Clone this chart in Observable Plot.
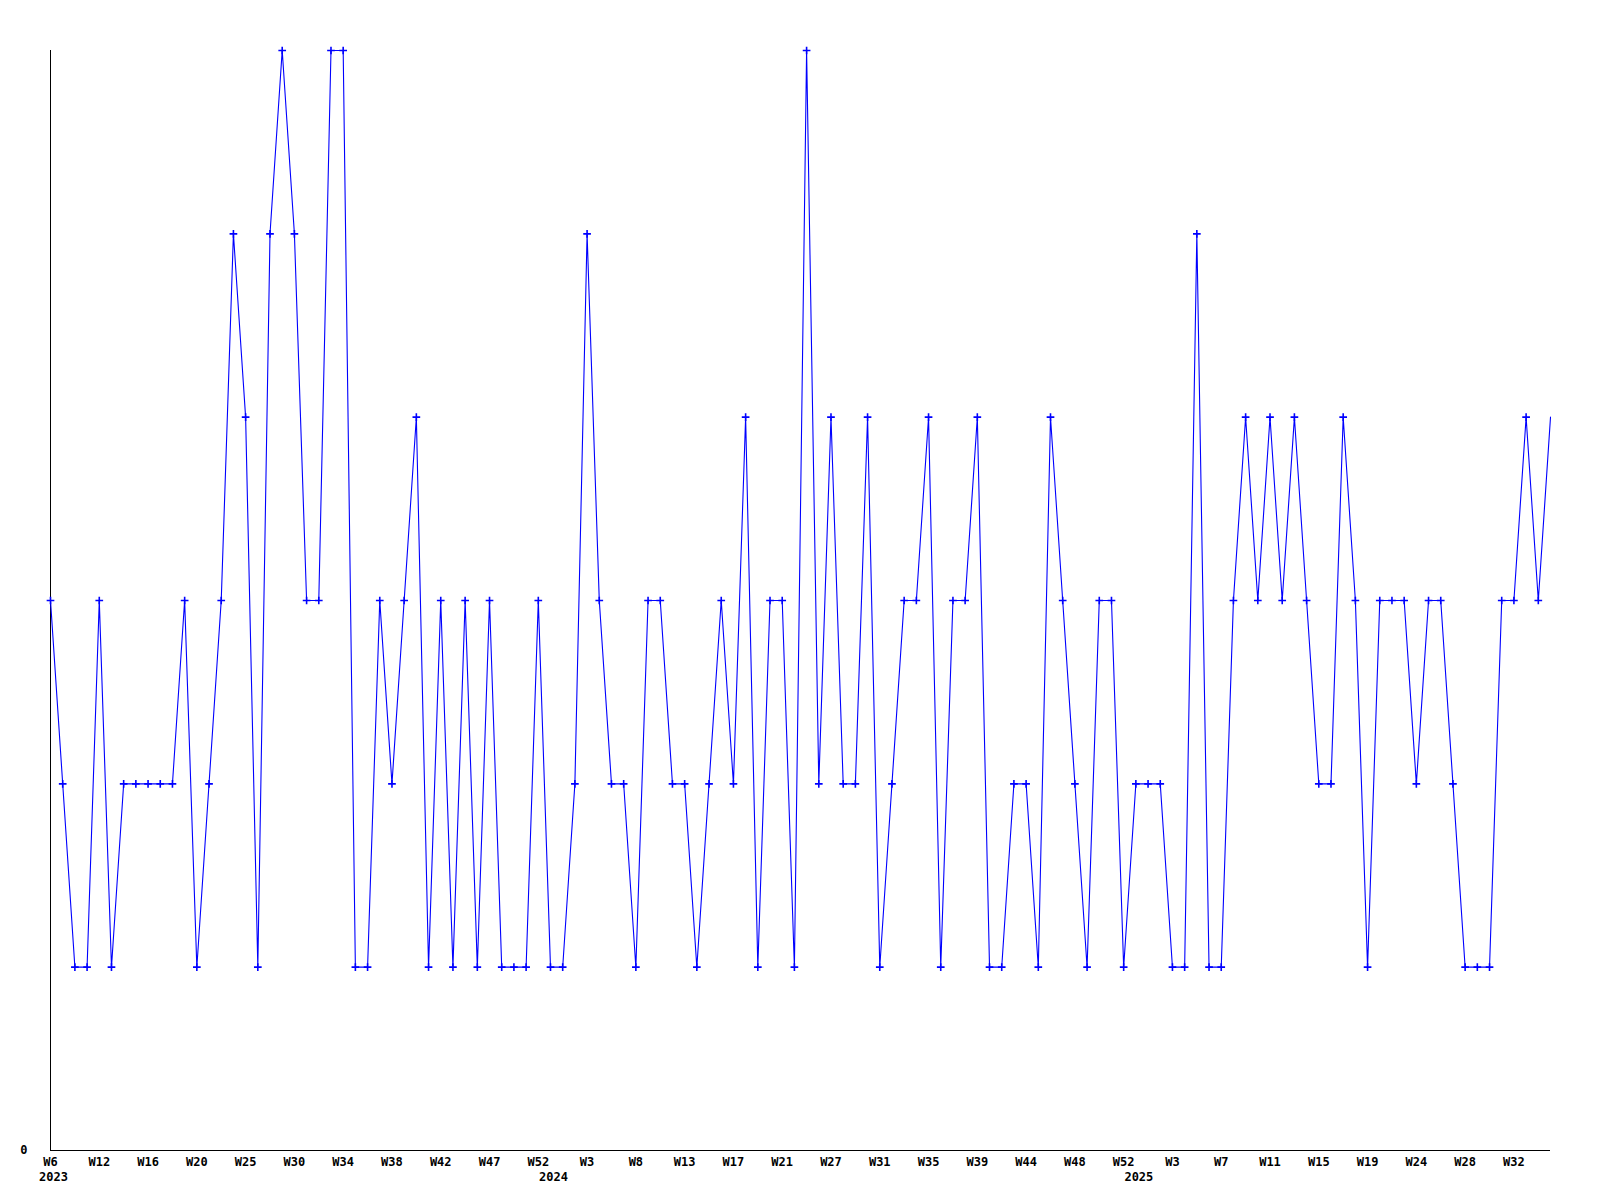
<!DOCTYPE html>
<html>
<head>
<meta charset="utf-8">
<script src="https://cdn.jsdelivr.net/npm/d3@7"></script>
<script src="https://cdn.jsdelivr.net/npm/@observablehq/plot@0.6"></script>
<style>
  html, body { margin: 0; padding: 0; background: #fff; }
  #chart svg { display: block; }
</style>
</head>
<body>
<div id="chart"></div>
<script>
// Weekly counts, one per point (point index 0 = 2023 W6)
const values = [
  3, 2, 1, 1, 3, 1, 2, 2, 2, 2, 2, 3, 1, 2, 3, 5, 4, 1, 5, 6,
  5, 3, 3, 6, 6, 1, 1, 3, 2, 3, 4, 1, 3, 1, 3, 1, 3, 1, 1, 1,
  3, 1, 1, 2, 5, 3, 2, 2, 1, 3, 3, 2, 2, 1, 2, 3, 2, 4, 1, 3,
  3, 1, 6, 2, 4, 2, 2, 4, 1, 2, 3, 3, 4, 1, 3, 3, 4, 1, 1, 2,
  2, 1, 4, 3, 2, 1, 3, 3, 1, 2, 2, 2, 1, 1, 5, 1, 1, 3, 4, 3,
  4, 3, 4, 3, 2, 2, 4, 3, 1, 3, 3, 3, 2, 3, 3, 2, 1, 1, 1, 3,
  3, 4, 3, 4
];

// Tick labels shown on every 4th point
const weekTickLabels = [
  "W6", "W12", "W16", "W20", "W25", "W30", "W34", "W38", "W42", "W47", "W52",
  "W3", "W8", "W13", "W17", "W21", "W27", "W31", "W35", "W39", "W44", "W48", "W52",
  "W3", "W7", "W11", "W15", "W19", "W24", "W28", "W32"
];
const tickEvery = 4;

// Year labels and the point index where each year starts being labelled
const years = ["2023", "2024", "2025"];
const yearStartIndex = [0, 41, 89];

const data = values.map((v, i) => ({i, v}));
const tickIdx = weekTickLabels.map((_, k) => k * tickEvery);
const font = "'DejaVu Sans Mono', monospace";

const chart = Plot.plot({
  width: 1600,
  height: 1200,
  marginLeft: 50,
  marginRight: 50,
  marginTop: 50,
  marginBottom: 50,
  style: {fontFamily: font, fontSize: "12px", fontWeight: "bold", color: "#000", background: "#fff"},
  x: {domain: [0, values.length - 1], axis: null},
  y: {domain: [0, 6], axis: null},
  marks: [
    Plot.ruleX([0], {y1: 0, y2: 6, stroke: "#000", strokeWidth: 1}),
    Plot.ruleY([0], {stroke: "#000", strokeWidth: 1}),
    Plot.axisY({ticks: [0], tickSize: 0, tickPadding: 23, tickFormat: d => String(d), label: null}),
    Plot.axisX({ticks: tickIdx, tickSize: 0, tickPadding: 7, label: null,
      tickFormat: d => weekTickLabels[Math.round(d / tickEvery)]}),
    Plot.axisX({ticks: yearStartIndex, tickSize: 0, tickPadding: 22, label: null, dx: 3,
      tickFormat: d => years[yearStartIndex.indexOf(d)]}),
    Plot.line(data, {x: "i", y: "v", stroke: "#0000ff", strokeWidth: 1.1, curve: "linear"}),
    Plot.dot(data.slice(0, -1), {x: "i", y: "v", symbol: "plus", r: 2.6, stroke: "#0000ff", strokeWidth: 1.6})
  ]
});
document.getElementById("chart").appendChild(chart);
</script>
</body>
</html>
